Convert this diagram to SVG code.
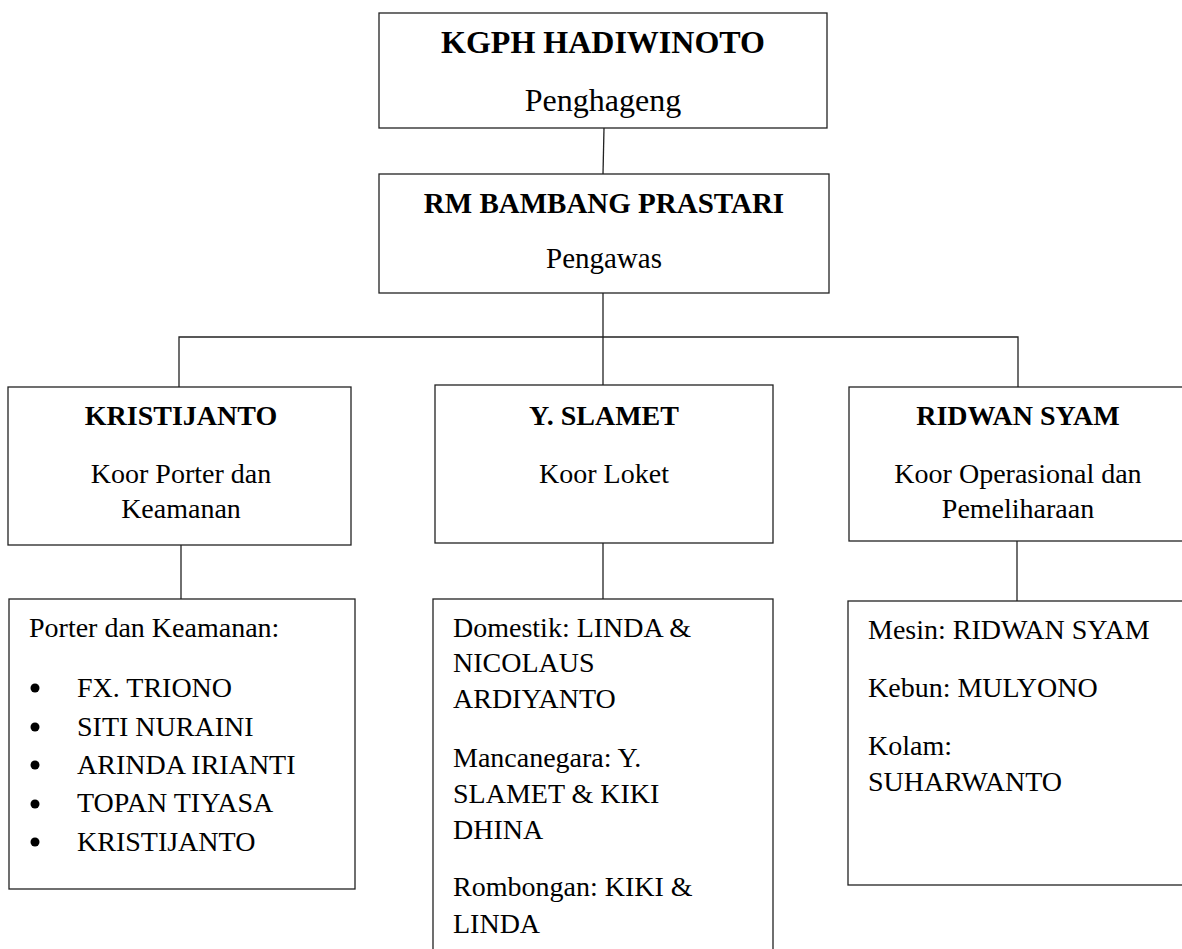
<svg xmlns="http://www.w3.org/2000/svg" width="1182" height="949" viewBox="0 0 1182 949">
<style>
.box{fill:#fff;stroke:#222;stroke-width:1.3}
.ln{fill:none;stroke:#222;stroke-width:1.3}
.c{text-anchor:middle}
.b{font-weight:bold}
.t1{font-size:32px}
.t2{font-size:29px}
.t3{font-size:28px}
</style>
<rect width="1182" height="949" fill="#fff"/>
<g id="connectors">
<line class="ln" x1="604" y1="128" x2="603" y2="174"/>
<line class="ln" x1="603" y1="293" x2="603" y2="386"/>
<polyline class="ln" points="179,387 179,337 1018,337 1018,387"/>
<line class="ln" x1="181" y1="545" x2="181" y2="599"/>
<line class="ln" x1="603" y1="543" x2="603" y2="599"/>
<line class="ln" x1="1017" y1="541" x2="1017" y2="601"/>
</g>
<g font-family="'Liberation Serif', Tinos, 'Times New Roman', 'DejaVu Serif', serif" fill="#000">
<g id="n-kgph">
<rect class="box" x="379" y="13" width="448" height="115"/>
<text class="c b t1" x="603" y="53">KGPH HADIWINOTO</text>
<text class="c t1" x="603" y="111">Penghageng</text>
</g>
<g id="n-rm">
<rect class="box" x="379" y="174" width="450" height="119"/>
<text class="c b t2" x="604" y="213">RM BAMBANG PRASTARI</text>
<text class="c t2" x="604" y="268">Pengawas</text>
</g>
<g id="n-kristijanto">
<rect class="box" x="8" y="387" width="343" height="158"/>
<text class="c b t3" x="181" y="425">KRISTIJANTO</text>
<text class="c t3" x="181" y="483">Koor Porter dan</text>
<text class="c t3" x="181" y="518">Keamanan</text>
</g>
<g id="n-slamet">
<rect class="box" x="435" y="385" width="338" height="158"/>
<text class="c b t3" x="604" y="425">Y. SLAMET</text>
<text class="c t3" x="604" y="483">Koor Loket</text>
</g>
<g id="n-ridwan">
<rect class="box" x="849" y="387" width="360" height="154"/>
<text class="c b t3" x="1018" y="425">RIDWAN SYAM</text>
<text class="c t3" x="1018" y="483">Koor Operasional dan</text>
<text class="c t3" x="1018" y="518">Pemeliharaan</text>
</g>
<g id="n-porter">
<rect class="box" x="9" y="599" width="346" height="290"/>
<text class="t3" x="29" y="637">Porter dan Keamanan:</text>
<g>
<circle cx="35" cy="688" r="4.5"/>
<circle cx="35" cy="727" r="4.5"/>
<circle cx="35" cy="765" r="4.5"/>
<circle cx="35" cy="804" r="4.5"/>
<circle cx="35" cy="842" r="4.5"/>
</g>
<text class="t3" x="77" y="697">FX. TRIONO</text>
<text class="t3" x="77" y="736">SITI NURAINI</text>
<text class="t3" x="77" y="774">ARINDA IRIANTI</text>
<text class="t3" x="77" y="812">TOPAN TIYASA</text>
<text class="t3" x="77" y="851">KRISTIJANTO</text>
</g>
<g id="n-loket">
<rect class="box" x="433" y="599" width="340" height="380"/>
<text class="t3" x="453" y="637">Domestik: LINDA &amp;</text>
<text class="t3" x="453" y="672">NICOLAUS</text>
<text class="t3" x="453" y="708">ARDIYANTO</text>
<text class="t3" x="453" y="767">Mancanegara: Y.</text>
<text class="t3" x="453" y="803">SLAMET &amp; KIKI</text>
<text class="t3" x="453" y="839">DHINA</text>
<text class="t3" x="453" y="896">Rombongan: KIKI &amp;</text>
<text class="t3" x="453" y="933">LINDA</text>
</g>
<g id="n-operasional">
<rect class="box" x="848" y="601" width="360" height="284"/>
<text class="t3" x="868" y="639">Mesin: RIDWAN SYAM</text>
<text class="t3" x="868" y="697">Kebun: MULYONO</text>
<text class="t3" x="868" y="755">Kolam:</text>
<text class="t3" x="868" y="791">SUHARWANTO</text>
</g>
</g>
</svg>
